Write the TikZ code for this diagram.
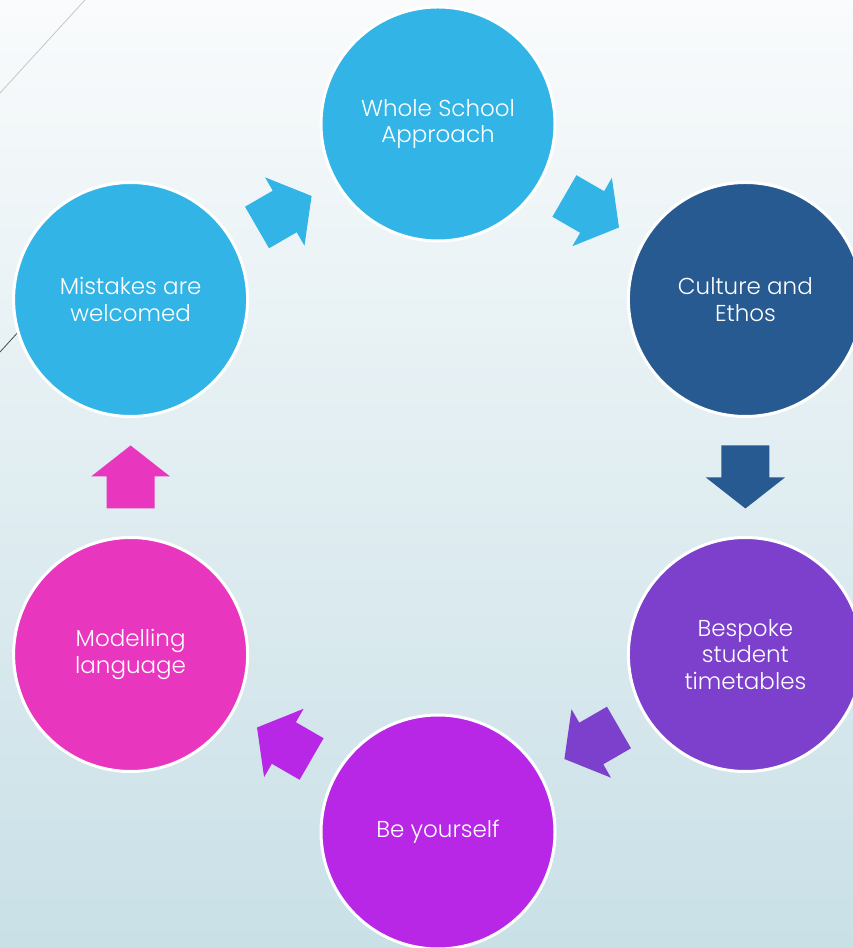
\documentclass[tikz,border=0pt]{standalone}
\usepackage{fontspec}
\setmainfont{Poppins Light}
\usetikzlibrary{calc}

\definecolor{skyblue}{HTML}{32B5E6}
\definecolor{navyblue}{HTML}{275A91}
\definecolor{violet}{HTML}{7C40CC}
\definecolor{orchid}{HTML}{B827E6}
\definecolor{pinkish}{HTML}{E936BE}
\definecolor{bgtop}{HTML}{F9FBFC}
\definecolor{bgbottom}{HTML}{C9E0E7}

\tikzset{
  stage/.style={circle, draw=white, line width=3pt, minimum size=234pt,
    inner sep=0pt, text=white, align=center,
    font=\fontsize{23}{26.5}\selectfont},
  blockarrow/.pic={
    \path[pic actions] (-31.5,-24) -- (0.5,-24) -- (0.5,-39.5) -- (31.5,0)
      -- (0.5,39.5) -- (0.5,24) -- (-31.5,24) -- cycle;
  },
  wisp/.style={line width=0.8pt}
}

\begin{document}
\begin{tikzpicture}[x=1pt,y=1pt]
  \useasboundingbox (0,0) rectangle (853,948);
  \clip (0,0) rectangle (853,948);
  % backdrop
  \shade[top color=bgtop, bottom color=bgbottom] (0,0) rectangle (853,948);
  \draw[wisp, color=gray!45] (0,855) -- (85,948);
  \draw[wisp, color=black!70] (0,596) -- (40,640);

  % the six stages of the cycle
  \node[stage, fill=skyblue]  (ws) at (438,824)     {Whole School\\Approach};
  \node[stage, fill=navyblue] (ce) at (745.4,648.5) {Culture and\\Ethos};
  \node[stage, fill=violet]   (bs) at (745.4,293.5) {Bespoke\\student\\timetables};
  \node[stage, fill=orchid]   (by) at (438,116)     {Be yourself};
  \node[stage, fill=pinkish]  (ml) at (130.6,293.5) {Modelling\\language};
  \node[stage, fill=skyblue]  (mw) at (130.6,648.5) {Mistakes are\\welcomed};

  % block arrows between consecutive stages
  \pic[fill=skyblue, rotate=-30]  (a1) at ($(ws)!0.5!(ce)$) {blockarrow};
  \pic[fill=navyblue, rotate=-90] (a2) at ($(ce)!0.5!(bs)$) {blockarrow};
  \pic[fill=violet, rotate=-150]  (a3) at ($(bs)!0.5!(by)$) {blockarrow};
  \pic[fill=orchid, rotate=150]   (a4) at ($(by)!0.5!(ml)$) {blockarrow};
  \pic[fill=pinkish, rotate=90]   (a5) at ($(ml)!0.5!(mw)$) {blockarrow};
  \pic[fill=skyblue, rotate=30]   (a6) at ($(mw)!0.5!(ws)$) {blockarrow};
\end{tikzpicture}
\end{document}
